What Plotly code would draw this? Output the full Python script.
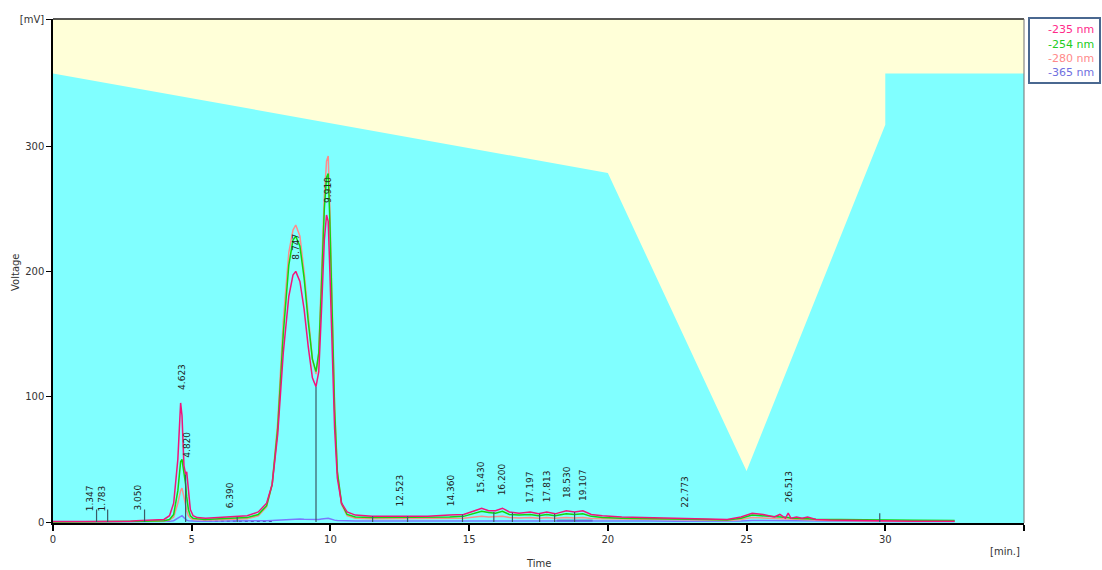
import plotly.graph_objects as go

# ---------------- data ----------------
time_min = [0, 1.0, 1.5, 2.0, 2.8, 3.0, 3.2, 3.6, 4.0, 4.2, 4.35, 4.5, 4.6, 4.65, 4.72, 4.78, 4.82,
            4.88, 4.95, 5.05, 5.2, 5.5, 6.0, 6.5, 7.0, 7.4, 7.7, 7.9, 8.1, 8.3, 8.5, 8.65, 8.75,
            8.9, 9.05, 9.2, 9.35, 9.48, 9.58, 9.68, 9.78, 9.86, 9.92, 9.98, 10.05, 10.15, 10.25,
            10.4, 10.6, 10.9, 11.5, 12.5, 13.5, 14.3, 14.8, 15.2, 15.45, 15.7, 15.95, 16.2, 16.45,
            16.8, 17.2, 17.5, 17.8, 18.1, 18.5, 18.8, 19.1, 19.4, 19.8, 20.5, 21.5, 22.5, 23.5,
            24.3, 24.8, 25.2, 25.6, 25.8, 26.0, 26.2, 26.4, 26.5, 26.6, 26.8, 27.0, 27.2, 27.5,
            28.0, 29.0, 30.0, 31.0, 32.5]

nm235 = [0.3, 0.3, 0.4, 0.4, 0.5, 1.0, 1.0, 1.5, 2.0, 5, 15, 50, 95, 85, 45, 38, 40,
         25, 10, 5, 3.5, 3, 3.5, 4, 5, 8, 15, 30, 70, 135, 180, 197, 200,
         192, 170, 140, 115, 108, 120, 170, 225, 245, 240, 200, 140, 75, 35,
         15, 8, 5.5, 4.5, 4.5, 4.5, 5.5, 6, 9, 11, 9, 9, 11, 8,
         7, 8, 6.5, 8, 6.5, 9, 8, 9, 6, 5, 4, 3.5, 3, 2.5,
         2, 4, 7, 6, 5, 4, 6, 3, 7, 3, 4, 3, 4, 2,
         1.5, 1, 0.6, 0.5, 0.5]

nm254 = [0, 0, 0, 0, 0.3, 0.5, 0.6, 0.8, 1, 2, 6, 25, 48, 50, 40, 30, 20,
         10, 5, 3, 2.5, 2, 2.5, 3, 3.5, 6, 13, 30, 75, 150, 205, 225, 228,
         220, 195, 160, 130, 120, 135, 190, 250, 275, 278, 240, 170, 90, 40,
         15, 6, 4, 3.5, 3.5, 3.5, 4, 4.5, 7, 8.5, 7.5, 7, 8.5, 6,
         5.5, 6, 5, 6, 5, 6.5, 6, 6.5, 4.5, 3.5, 3, 2.8, 2.5, 2,
         1.5, 3, 5.5, 5, 4.5, 4, 4, 3.5, 3.5, 3, 3, 2.5, 2.5, 2.2,
         2, 1.8, 1.6, 1.3, 1.2]

nm280 = [0, 0, 0, 0, 0.2, 0.4, 0.4, 0.6, 0.8, 1.5, 4, 15, 25, 27, 20, 13, 9,
         5, 3, 2, 1.8, 1.6, 1.8, 2, 2.5, 5, 12, 30, 80, 160, 215, 233, 237,
         228, 200, 165, 130, 118, 135, 200, 260, 288, 292, 250, 175, 95, 40,
         14, 5, 3, 2.5, 2.5, 2.5, 2.8, 3, 4, 4.5, 4, 4, 4.5, 3.5,
         3.2, 3.5, 3, 3.5, 3, 3.5, 3.2, 3.5, 2.8, 2.5, 2.2, 2, 1.8, 1.5,
         1.2, 2, 3.5, 3.2, 3, 2.8, 2.8, 2.5, 2.5, 2.2, 2, 1.8, 1.6, 1.4,
         1.2, 1, 0.8, 0.7, 0.6]

nm365 = [0, 0, 0, 0, 0, 0.1, 0.1, 0.2, 0.3, 0.5, 1, 3, 5, 5, 3.5, 2, 1.5,
         1, 0.8, 0.6, 0.5, 0.5, 0.5, 0.6, 0.7, 0.8, 1, 1.2, 1.5, 2, 2.2, 2.4, 2.5,
         2.4, 2.2, 2, 1.8, 1.8, 2, 2.4, 2.8, 3, 3, 2.6, 2, 1.5, 1.2,
         1, 0.9, 0.8, 0.8, 0.8, 0.8, 0.9, 0.9, 1, 1.2, 1.1, 1, 1.2, 1,
         1, 1, 0.9, 1, 0.9, 1, 1, 1, 0.9, 0.8, 0.8, 0.7, 0.6, 0.5,
         0.5, 0.8, 1.2, 1.1, 1, 1, 1, 0.9, 0.9, 0.8, 0.8, 0.7, 0.7, 0.6,
         0.5, 0.4, 0.3, 0.3, 0.3]

series_names = ["-235 nm", "-254 nm", "-280 nm", "-365 nm"]

gradient_time = [0, 0, 20, 25, 30, 30, 35, 35]
gradient_level = [-0.8, 358, 278.5, 40.7, 317, 358, 358, -0.8]

peak_times = [1.347, 1.783, 3.050, 4.623, 4.820, 6.390, 8.747, 9.910, 12.523, 14.360, 15.430,
              16.200, 17.197, 17.813, 18.530, 19.107, 22.773, 26.513]
peak_label_heights = [7.2, 7.2, 7.2, 104, 49.5, 9.6, 207.5, 253, 11.2, 11.2, 21.5,
                      20, 13.6, 14.4, 17.6, 15.2, 9.6, 13.6]

marker_times = [1.57, 1.97, 3.30, 4.78, 6.64, 9.48, 11.52, 12.78, 14.76, 15.89, 16.56, 17.54,
                18.08, 18.80, 29.80]
marker_tops = [10, 10, 10, 38, 4, 108, 4.5, 4.5, 6, 8, 7.5, 6.5, 6.5, 8, 7]

x_ticks = [0, 5, 10, 15, 20, 25, 30, 35]
x_tick_text = ["0", "5", "10", "15", "20", "25", "30", ""]
y_ticks = [0, 100, 200, 300, 401]
y_tick_text = ["0", "100", "200", "300", "[mV]"]

# ---------------- styling ----------------
W, H = 1102, 570
ML, MR, MT, MB = 53, 78, 19, 47
PW, PH = W - ML - MR, H - MT - MB


def px(xp):
    return (xp - ML) / PW


def py(yp):
    return (H - MB - yp) / PH


colors = ["#f0147c", "#10d810", "#ff8c8c", "#7878ff"]
legend_colors = ["#ff2a8a", "#22cc22", "#ff8a8a", "#7070e0"]
FONT = "DejaVu Sans"

fig = go.Figure()

# gradient background (cyan below profile)
fig.add_trace(go.Scatter(x=gradient_time, y=gradient_level, mode="lines", fill="toself",
                         fillcolor="#80ffff", line=dict(width=0, color="#80ffff"),
                         hoverinfo="skip", showlegend=False))

# integration baseline segments
fig.add_trace(go.Scatter(x=[18.15, 19.45], y=[0.9, 0.9], mode="lines",
                         line=dict(color="#203a80", width=2), hoverinfo="skip", showlegend=False))
fig.add_trace(go.Scatter(x=[5.4, 7.9], y=[0.6, 0.6], mode="lines",
                         line=dict(color="#303a90", width=1.5, dash="dot"), hoverinfo="skip",
                         showlegend=False))

# chromatogram traces (draw 365 first, 235 last)
for vals, name, col in reversed(list(zip([nm235, nm254, nm280, nm365], series_names, colors))):
    fig.add_trace(go.Scatter(x=time_min, y=vals, mode="lines", name=name,
                             line=dict(color=col, width=1.5), showlegend=False))

shapes = []
# peak delimiter markers
for t, top in zip(marker_times, marker_tops):
    shapes.append(dict(type="line", xref="x", yref="y", x0=t, x1=t, y0=0, y1=top,
                       line=dict(color="#3a5a66", width=1.2)))

# borders
shapes.append(dict(type="line", xref="paper", yref="paper", x0=0, x1=1, y0=1, y1=1,
                   line=dict(color="#202020", width=1.5)))
shapes.append(dict(type="line", xref="paper", yref="paper", x0=1, x1=1, y0=0, y1=1,
                   line=dict(color="#707070", width=1)))

# legend box
shapes.append(dict(type="rect", xref="paper", yref="paper", x0=px(1029), x1=px(1100),
                   y0=py(83), y1=py(18), line=dict(color="#4a6890", width=2),
                   fillcolor="white"))

annotations = []
for t, h in zip(peak_times, peak_label_heights):
    annotations.append(dict(x=t, y=h, xref="x", yref="y", text=f"{t:.3f}", showarrow=False,
                            textangle=-90, xanchor="center", yanchor="bottom",
                            font=dict(family=FONT, size=9, color="#222")))

legend_rows = [29.5, 44, 58.5, 73]
for name, col, yp in zip(series_names, legend_colors, legend_rows):
    annotations.append(dict(x=px(1046), y=py(yp), xref="paper", yref="paper", text=name,
                            showarrow=False, xanchor="left", yanchor="middle",
                            font=dict(family=FONT, size=11, color=col)))

annotations.append(dict(x=px(538), y=py(563), xref="paper", yref="paper", text="Time",
                        showarrow=False, xanchor="center", yanchor="middle",
                        font=dict(family=FONT, size=10, color="#333")))
annotations.append(dict(x=px(15), y=py(272), xref="paper", yref="paper", text="Voltage",
                        showarrow=False, textangle=-90, xanchor="center", yanchor="middle",
                        font=dict(family=FONT, size=10, color="#333")))
annotations.append(dict(x=px(1022), y=py(551), xref="paper", yref="paper", text="[min.]",
                        showarrow=False, xanchor="right", yanchor="middle",
                        font=dict(family=FONT, size=10, color="#333")))

fig.update_layout(
    width=W, height=H,
    margin=dict(l=ML, r=MR, t=MT, b=MB, pad=0),
    paper_bgcolor="white", plot_bgcolor="#ffffd8",
    font=dict(family=FONT, size=10, color="#333"),
    shapes=shapes, annotations=annotations, showlegend=False,
)
fig.update_xaxes(range=[0, 35], tickvals=x_ticks, ticktext=x_tick_text, showgrid=False,
                 zeroline=False, showline=True, linecolor="#000", linewidth=2,
                 ticks="outside", ticklen=6, tickcolor="#000", tickwidth=1.5,
                 tickfont=dict(family=FONT, size=10, color="#333"), automargin=False)
fig.update_yaxes(range=[-0.8, 401.4], tickvals=y_ticks, ticktext=y_tick_text, showgrid=False,
                 zeroline=False, showline=True, linecolor="#000", linewidth=1.5,
                 ticks="outside", ticklen=5, tickcolor="#000", tickwidth=1.2,
                 tickfont=dict(family=FONT, size=10, color="#333"), automargin=False)

fig.write_html("out.html", config={"displayModeBar": False},
               post_script="document.body.style.margin='0px';document.body.style.overflow='hidden';")
